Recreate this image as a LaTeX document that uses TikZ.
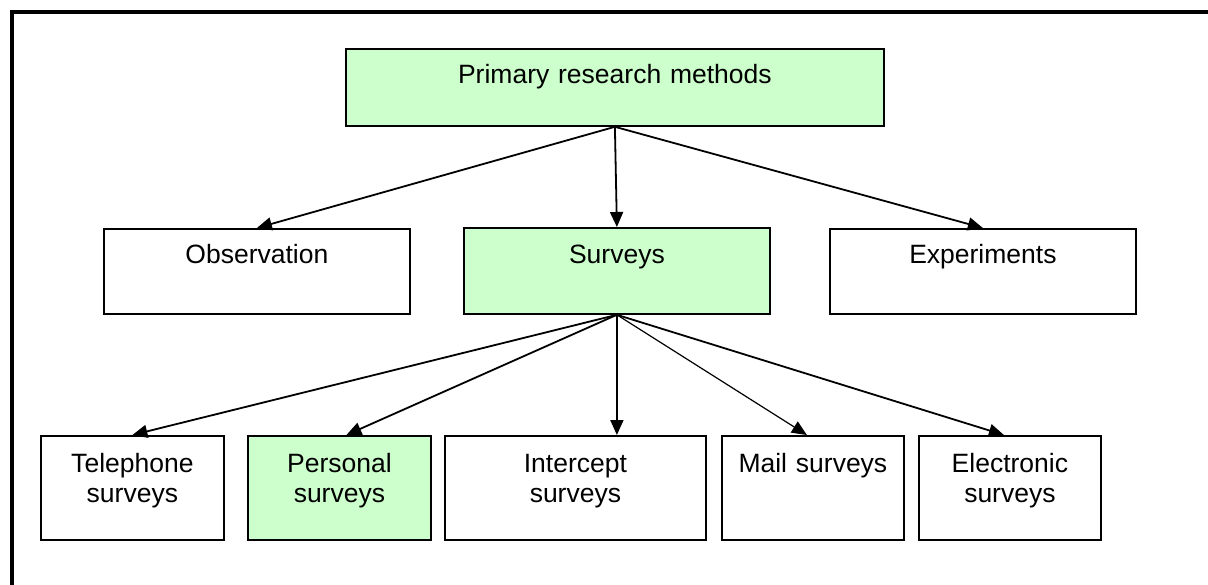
\documentclass[tikz,border=0pt]{standalone}
\usepackage{fontspec}
\setmainfont{Liberation Sans}
\usetikzlibrary{arrows.meta}
\definecolor{boxgreen}{HTML}{CCFFCC}
\begin{document}
\begin{tikzpicture}[x=1pt,y=-1pt,
  box/.style={draw=black, line width=1.8pt, fill=white, inner sep=0pt,
    align=center, anchor=north west, font=\fontsize{26.5}{30}\selectfont},
  hl/.style={fill=boxgreen},
  midrow/.style={text width=306pt, text height=35pt, text depth=50pt},
  lowrow/.style={text height=37pt, text depth=67pt},
  link/.style={-{Triangle[length=15pt,width=13pt]}, line width=1.8pt},
]
\useasboundingbox (0,0) rectangle (1208,584);
\clip (0,0) rectangle (1208,584);
% outer frame, running off the right and bottom edges
\draw[line width=4.5pt] (12,12) rectangle (1250,640);

% top level
\node[box, hl, text width=538pt, text height=35pt, text depth=42pt] (top) at (345,48) {Primary research methods};

% second level
\node[box, midrow] (obs) at (103,228) {Observation};
\node[box, hl, midrow, text height=36pt] (surv) at (463,227) {Surveys};
\node[box, midrow] (exp) at (829,228) {Experiments};

% third level
\node[box, lowrow, text width=183pt] (tel) at (40,435) {Telephone\\surveys};
\node[box, hl, lowrow, text width=183pt] (pers) at (247,435) {Personal\\surveys};
\node[box, lowrow, text width=261pt] (inter) at (444,435) {Intercept\\surveys};
\node[box, lowrow, text width=182pt] (mail) at (721,435) {Mail surveys};
\node[box, lowrow, text width=182pt] (elec) at (918,435) {Electronic\\surveys};

% connectors
\draw[link] (top.south) -- (obs.north);
\draw[link] (top.south) -- (surv.north);
\draw[link] (top.south) -- (exp.north);

\draw[link] (surv.south) -- (tel.north);
\draw[link] (surv.south) -- ([xshift=7pt]pers.north);
\draw[link] (surv.south) -- (surv.south |- inter.north);
\draw[link, line width=1.2pt] (surv.south) -- ([xshift=-6pt]mail.north);
\draw[link] (surv.south) -- ([xshift=-6pt]elec.north);
\end{tikzpicture}
\end{document}
